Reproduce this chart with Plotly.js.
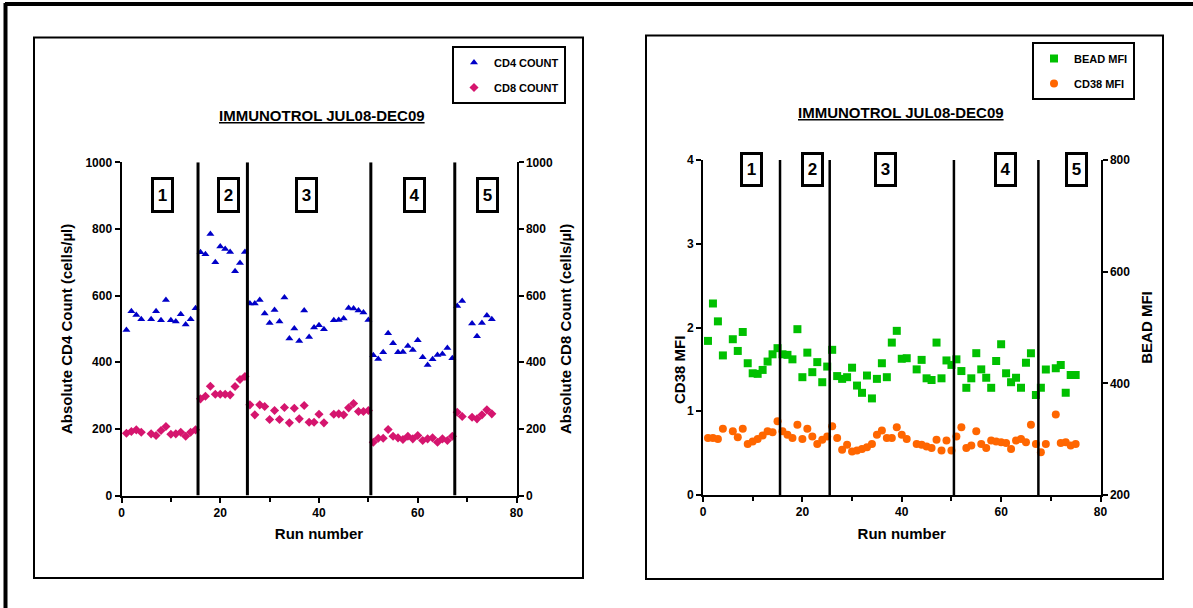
<!DOCTYPE html>
<html>
<head>
<meta charset="utf-8">
<script src="https://cdn.plot.ly/plotly-3.0.1.min.js"></script>
<style>html,body{margin:0;padding:0;background:#fff;}#chart{width:1193px;height:608px;}</style>
</head>
<body>
<div id="chart"></div>
<script>
// ---- data ----
const runs = [1,2,3,4,6,7,8,9,10,11,12,13,14,15,
  16,17,18,19,20,21,22,23,24,25,
  26,27,28,29,30,31,32,33,34,35,36,37,38,39,40,41,43,44,45,46,47,48,49,50,
  51,52,53,54,55,56,57,58,59,60,61,62,63,64,65,66,67,
  68,69,71,72,73,74,75];

const cd4Count = [497,553,542,529,529,553,526,587,526,522,544,513,529,562,
  730,724,785,700,747,740,731,673,698,731,
  576,576,587,546,518,557,522,594,471,501,464,555,476,504,511,499,526,527,531,563,561,555,549,527,
  421,410,430,487,457,430,431,449,437,466,415,392,409,422,425,443,412,
  569,584,516,478,518,540,529];

const cd8Count = [187,192,197,190,185,180,195,207,184,185,190,178,190,197,
  290,298,328,304,304,304,302,327,348,357,
  272,242,272,267,228,255,228,264,218,262,230,270,220,220,244,218,244,245,242,263,276,252,252,255,
  160,172,172,198,178,173,168,178,170,180,165,170,173,160,170,165,178,
  250,237,235,230,242,257,245];

const beadMFI = [476,543,511,450,479,458,492,436,418,417,424,439,452,463,
  452,451,443,497,411,455,420,438,402,430,
  460,413,408,411,428,396,383,414,373,408,436,411,473,494,444,445,425,442,409,406,473,409,441,433,
  443,422,392,409,454,425,410,392,440,470,418,402,410,392,437,454,379,
  392,425,427,433,383,415,415];

const cd38MFI = [0.68,0.68,0.67,0.79,0.76,0.69,0.79,0.61,0.64,0.67,0.71,0.76,0.75,0.88,
  0.76,0.72,0.68,0.84,0.67,0.79,0.70,0.61,0.66,0.70,
  0.82,0.68,0.54,0.60,0.52,0.53,0.55,0.57,0.61,0.72,0.77,0.68,0.68,0.81,0.72,0.67,0.61,0.60,0.58,0.56,0.66,0.53,0.65,0.53,
  0.70,0.81,0.56,0.59,0.76,0.61,0.56,0.65,0.64,0.63,0.62,0.55,0.65,0.67,0.63,0.84,0.61,
  0.51,0.61,0.96,0.62,0.63,0.59,0.61];

const lotBoundaries = [15.5, 25.5, 50.5, 67.5];
const lotLabels = ['1','2','3','4','5'];
const lotLabelRunsLeft = [8.3, 21.6, 37.4, 59.3, 74.2];
const lotLabelRunsRight = [9.7, 22.1, 36.8, 60.9, 75.1];
const chartTitle = 'IMMUNOTROL JUL08-DEC09';

// ---- layout helpers ----
const W = 1193, H = 608;
const px = v => v / W;
const py = v => 1 - v / H;
const FONT = 'Liberation Sans, Arial, sans-serif';
const tickFont = {family: FONT, size: 12, color: '#000', weight: 'bold'};
const titleFont = {family: FONT, size: 15, color: '#000', weight: 'bold'};

function axisBase(extra) {
  return Object.assign({
    showgrid: false, zeroline: false, showline: true, linecolor: '#000', linewidth: 2,
    ticks: 'outside', ticklen: 5, tickwidth: 2, tickcolor: '#000',
    tickfont: tickFont, fixedrange: true
  }, extra);
}

const traces = [
  {x: runs, y: cd4Count, name: 'CD4 COUNT', type: 'scatter', mode: 'markers',
   xaxis: 'x', yaxis: 'y', legend: 'legend', legendgroup: 'a',
   marker: {symbol: 'triangle-up', size: 7, color: '#0000C8'}},
  {x: runs, y: cd8Count, name: 'CD8 COUNT', type: 'scatter', mode: 'markers',
   xaxis: 'x', yaxis: 'y2', legend: 'legend', legendgroup: 'b',
   marker: {symbol: 'diamond', size: 7, color: '#D5156E'}},
  {x: runs, y: beadMFI, name: 'BEAD MFI', type: 'scatter', mode: 'markers',
   xaxis: 'x2', yaxis: 'y4', legend: 'legend2', legendgroup: 'c',
   marker: {symbol: 'square', size: 8, color: '#00C000'}},
  {x: runs, y: cd38MFI, name: 'CD38 MFI', type: 'scatter', mode: 'markers',
   xaxis: 'x2', yaxis: 'y3', legend: 'legend2', legendgroup: 'd',
   marker: {symbol: 'circle', size: 8, color: '#FF6600'}}
];

const shapes = [];
// outer frame
shapes.push({type: 'line', xref: 'paper', yref: 'paper', x0: px(5), x1: px(1200), y0: py(4), y1: py(4), line: {color: '#000', width: 4}});
shapes.push({type: 'line', xref: 'paper', yref: 'paper', x0: px(5.5), x1: px(5.5), y0: py(3), y1: py(612), line: {color: '#000', width: 4}});
// panel boxes
shapes.push({type: 'rect', xref: 'paper', yref: 'paper', x0: px(34), x1: px(583), y0: py(37.5), y1: py(578), line: {color: '#000', width: 2}});
shapes.push({type: 'rect', xref: 'paper', yref: 'paper', x0: px(646), x1: px(1163), y0: py(35.5), y1: py(579), line: {color: '#000', width: 2}});
// lot separators
lotBoundaries.forEach(b => {
  shapes.push({type: 'line', xref: 'x', yref: 'y', x0: b, x1: b, y0: 0, y1: 1000, line: {color: '#000', width: 3}});
  shapes.push({type: 'line', xref: 'x2', yref: 'y3', x0: b, x1: b, y0: 0, y1: 4, line: {color: '#000', width: 2.5}});
});

const annotations = [];
annotations.push({xref: 'paper', yref: 'paper', x: px(322), y: py(115), xanchor: 'center', yanchor: 'middle',
  text: '<u>' + chartTitle + '</u>', showarrow: false,
  font: {family: FONT, size: 15, color: '#000', weight: 'bold'}});
annotations.push({xref: 'paper', yref: 'paper', x: px(901), y: py(113), xanchor: 'center', yanchor: 'middle',
  text: '<u>' + chartTitle + '</u>', showarrow: false,
  font: {family: FONT, size: 15, color: '#000', weight: 'bold'}});
// right-panel left axis title placed as in the reference
annotations.push({xref: 'paper', yref: 'paper', x: px(679), y: py(370), xanchor: 'center', yanchor: 'middle',
  text: 'CD38 MFI', textangle: -90, showarrow: false, font: titleFont});
lotLabels.forEach((t, i) => {
  annotations.push({xref: 'x', yref: 'y', x: lotLabelRunsLeft[i], y: 902, text: t, showarrow: false,
    font: {family: FONT, size: 17, color: '#000', weight: 'bold'},
    bordercolor: '#000', borderwidth: 3, borderpad: 2, bgcolor: '#fff', width: 13, height: 26});
  annotations.push({xref: 'x2', yref: 'y3', x: lotLabelRunsRight[i], y: 3.887, text: t, showarrow: false,
    font: {family: FONT, size: 17, color: '#000', weight: 'bold'},
    bordercolor: '#000', borderwidth: 3, borderpad: 2, bgcolor: '#fff', width: 13, height: 25});
});

const legendBase = {
  bgcolor: '#fff', bordercolor: '#000', borderwidth: 2,
  font: {family: FONT, size: 11, color: '#000', weight: 'bold'},
  xanchor: 'left', yanchor: 'top', traceorder: 'grouped', tracegroupgap: 6, itemwidth: 30
};

const layout = {
  width: W, height: H,
  margin: {l: 0, r: 0, t: 0, b: 0},
  paper_bgcolor: '#fff', plot_bgcolor: 'rgba(0,0,0,0)',
  showlegend: true,
  xaxis: axisBase({domain: [px(121.5), px(516.5)], range: [0, 80], dtick: 20, anchor: 'y',
    minor: {dtick: 10, ticks: 'outside', ticklen: 4, tickwidth: 2, tickcolor: '#000'},
    title: {text: 'Run number', font: titleFont, standoff: 10}}),
  yaxis: axisBase({domain: [1 - 495.5 / H, 1 - 162.3 / H], range: [0, 1000], dtick: 200, anchor: 'x',
    title: {text: 'Absolute CD4 Count (cells/µl)', font: titleFont, standoff: 9}}),
  yaxis2: axisBase({overlaying: 'y', side: 'right', anchor: 'x', range: [0, 1000], dtick: 200,
    title: {text: 'Absolute CD8 Count (cells/µl)', font: titleFont, standoff: 9}}),
  xaxis2: axisBase({domain: [px(703), px(1100.5)], range: [0, 80], dtick: 20, anchor: 'y3',
    minor: {dtick: 10, ticks: 'outside', ticklen: 4, tickwidth: 2, tickcolor: '#000'},
    title: {text: 'Run number', font: titleFont, standoff: 10}}),
  yaxis3: axisBase({domain: [1 - 495 / H, 1 - 160 / H], range: [0, 4], dtick: 1, anchor: 'x2'}),
  yaxis4: axisBase({overlaying: 'y3', side: 'right', anchor: 'x2', range: [200, 800], dtick: 200,
    title: {text: 'BEAD MFI', font: titleFont, standoff: 12}}),
  legend: Object.assign({}, legendBase, {x: px(452), y: py(46)}),
  legend2: Object.assign({}, legendBase, {x: px(1032), y: py(42)}),
  shapes: shapes,
  annotations: annotations
};

Plotly.newPlot('chart', traces, layout, {displayModeBar: false, staticPlot: true});
</script>
</body>
</html>
